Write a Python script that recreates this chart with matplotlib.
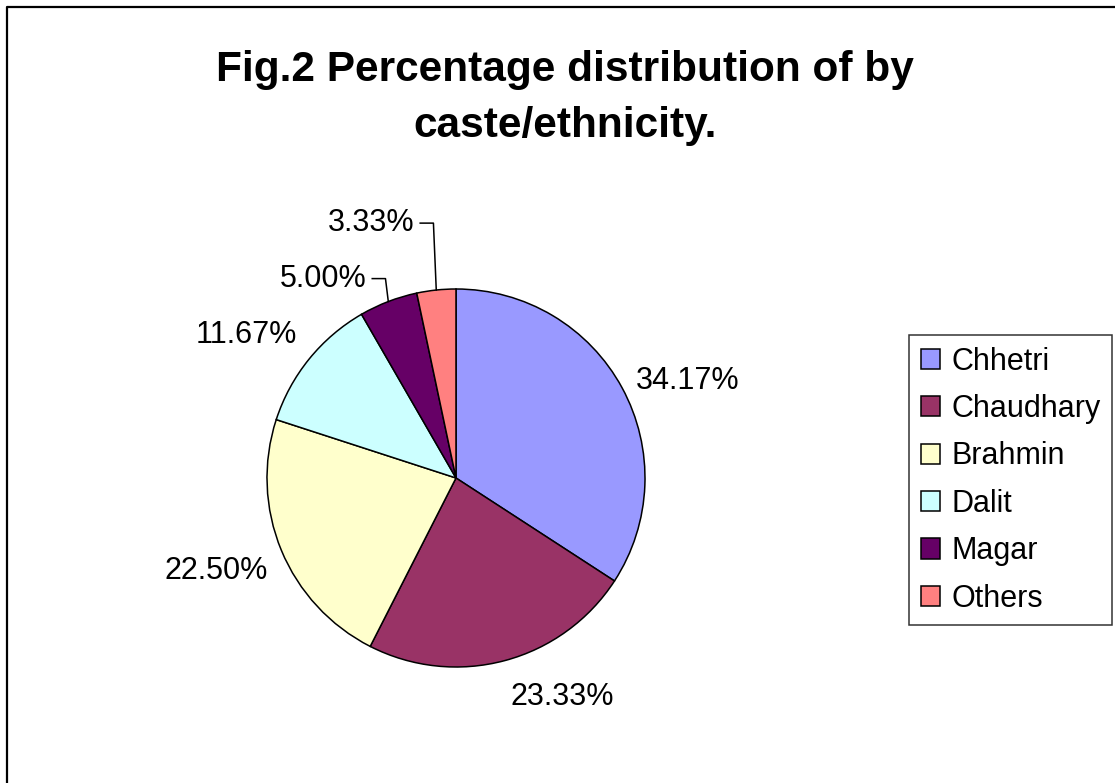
import numpy as np
import matplotlib
matplotlib.use("Agg")
import matplotlib.pyplot as plt
from matplotlib.lines import Line2D
from matplotlib.patches import Patch

categories = ["Chhetri", "Chaudhary", "Brahmin", "Dalit", "Magar", "Others"]
values = [34.17, 23.33, 22.50, 11.67, 5.00, 3.33]
colors = ["#9999FF", "#993366", "#FFFFCC", "#CCFFFF", "#660066", "#FF8080"]
title = "Fig.2 Percentage distribution of by\ncaste/ethnicity."

plt.rcParams['font.family'] = ['Liberation Sans', 'DejaVu Sans']

W, H = 1115, 783
fig = plt.figure(figsize=(W / 100, H / 100), dpi=100)
fig.patch.set_facecolor("white")

# border (top and left visible)
fig.add_artist(Line2D([7 / W, 7 / W, 1.0], [0.0, 1 - 7 / H, 1 - 7 / H],
                      transform=fig.transFigure, color="black", lw=1.6))

# pie axes: center (456,478) px, radius 189 px
cx, cy, R = 456, 478, 189
ax = fig.add_axes([(cx - R) / W, (H - cy - R) / H, 2 * R / W, 2 * R / H])
wedges, _ = ax.pie(values, colors=colors, startangle=90, counterclock=False,
                   radius=1.0, wedgeprops=dict(edgecolor="black", linewidth=1.1))
ax.set_xlim(-1, 1)
ax.set_ylim(-1, 1)
ax.set_aspect("equal")
ax.axis("off")

label_fs = 22
for w, v in zip(wedges, values):
    theta = np.deg2rad((w.theta1 + w.theta2) / 2)
    c, s = np.cos(theta), np.sin(theta)
    txt = f"{v:.2f}%"
    if v < 6:
        # leader line label
        r_lab = 1.13 if v >= 4 else 1.356
        ex, ey = c, s
        ly = r_lab * s
        lx = c - 0.015
        hx = lx - 0.07
        ax.add_line(Line2D([ex, lx, hx], [ey, ly, ly], color="black", lw=1.1,
                           clip_on=False))
        ax.text(hx - 0.03, ly, txt, ha="right", va="center", fontsize=label_fs,
                clip_on=False)
    else:
        r_lab = 1.08 if s > -0.9 else 1.12
        ha = "left" if c > 0 else "right"
        if s > 0.5:
            va = "bottom"
        elif s < -0.3:
            va = "top"
        else:
            va = "center"
        ax.text(r_lab * c, r_lab * s, txt, ha=ha, va=va, fontsize=label_fs,
                clip_on=False)

fig.text(565 / W, 1 - 50 / H, title, ha="center", va="top", fontsize=30.5,
         fontweight="bold", linespacing=1.5)

handles = [Patch(facecolor=col, edgecolor="black", linewidth=1.1) for col in colors]
leg = fig.legend(handles, categories, loc="upper left",
                 bbox_to_anchor=(909 / W, 1 - 335 / H), fontsize=22,
                 frameon=True, fancybox=False, edgecolor="black",
                 handlelength=0.64, handleheight=0.64, handletextpad=0.36,
                 labelspacing=0.57, borderpad=0.38, borderaxespad=0)
leg.get_frame().set_linewidth(1.1)

fig.savefig("out.png", dpi=100)
